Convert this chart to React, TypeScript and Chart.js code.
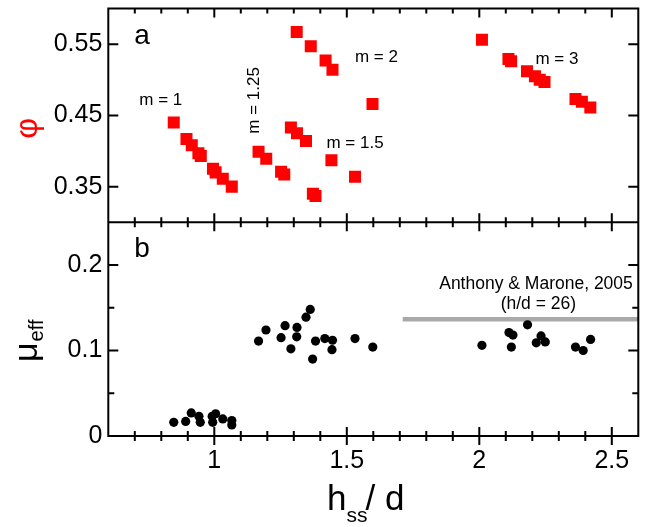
import React, { useEffect, useRef } from 'react';
import { Chart, registerables } from 'chart.js';

Chart.register(...registerables);

const FONT = "'Liberation Sans', Arial, Helvetica, sans-serif";

// axis ranges and ticks
const xRange = [0.6, 2.6];
const phiRange = [0.3, 0.6];
const muRange = [0, 0.25];
const xMajorTicks = [1, 1.5, 2, 2.5];
const xMinorTicks = [0.7, 0.8, 0.9, 1.1, 1.2, 1.3, 1.4, 1.6, 1.7, 1.8, 1.9, 2.1, 2.2, 2.3, 2.4];
const phiTicks = [0.35, 0.45, 0.55];
const muMajorTicks = [0, 0.1, 0.2];
const muMinorTicks = [0.05, 0.15];

// panel a: packing fraction phi
const m1X = [0.847, 0.895, 0.915, 0.940, 0.949, 0.995, 1.005, 1.032, 1.066];
const m1Phi = [0.440, 0.417, 0.408, 0.397, 0.393, 0.375, 0.370, 0.361, 0.350];
const m125X = [1.167, 1.196, 1.252, 1.264];
const m125Phi = [0.399, 0.389, 0.371, 0.367];
const m15X = [1.289, 1.312, 1.346, 1.372, 1.382, 1.442, 1.531];
const m15Phi = [0.433, 0.425, 0.414, 0.340, 0.337, 0.387, 0.364];
const m2X = [1.311, 1.364, 1.420, 1.446, 1.597];
const m2Phi = [0.567, 0.547, 0.527, 0.514, 0.466];
const m3X = [2.010, 2.110, 2.120, 2.180, 2.210, 2.228, 2.246, 2.363, 2.387, 2.419];
const m3Phi = [0.556, 0.529, 0.526, 0.512, 0.505, 0.500, 0.497, 0.473, 0.469, 0.461];

// panel b: effective friction
const muX = [
  0.847, 0.892, 0.913, 0.942, 0.947, 0.992, 0.994, 1.005, 1.032, 1.066, 1.066,
  1.167, 1.195, 1.252, 1.267, 1.289, 1.311, 1.312, 1.346, 1.362, 1.371, 1.382, 1.417, 1.446, 1.444, 1.531, 1.598,
  2.010, 2.112, 2.127, 2.121, 2.182, 2.215, 2.233, 2.249, 2.363, 2.392, 2.420,
];
const muVals = [
  0.016, 0.017, 0.027, 0.023, 0.016, 0.023, 0.016, 0.026, 0.020, 0.018, 0.013,
  0.111, 0.124, 0.115, 0.129, 0.102, 0.116, 0.127, 0.139, 0.148, 0.090, 0.111, 0.114, 0.112, 0.101, 0.114, 0.104,
  0.106, 0.121, 0.118, 0.104, 0.130, 0.109, 0.117, 0.110, 0.104, 0.100, 0.113,
];

// reference value (Anthony & Marone, 2005)
const refX = [1.711, 2.6];
const refMu = [0.1365, 0.1365];

// annotation texts and their anchor positions (data units)
const phiNotes = [
  { text: 'm = 1', x: 0.798, y: 0.471, rot: false },
  { text: 'm = 1.25', x: 1.150, y: 0.471, rot: true },
  { text: 'm = 2', x: 1.612, y: 0.531, rot: false },
  { text: 'm = 1.5', x: 1.531, y: 0.411, rot: false },
  { text: 'm = 3', x: 2.293, y: 0.5285, rot: false },
];
const muNotes = [
  { text: 'Anthony & Marone, 2005', x: 2.214, y: 0.1776 },
  { text: '(h/d = 26)', x: 2.223, y: 0.1545 },
];
const panelLetters = [
  { text: 'a', x: 0.727, y: 0.561, axis: 'yPhi' },
  { text: 'b', x: 0.727, y: 0.218, axis: 'yMu' },
];

const pts = (xs: number[], ys: number[]) => xs.map((x, i) => ({ x, y: ys[i] }));

const framePlugin = {
  id: 'frameTicks',
  afterDraw(chart: any) {
    const { ctx, chartArea: ca, scales } = chart;
    const sx = scales.x;
    const yP = scales.yPhi;
    const yM = scales.yMu;
    const mid = yP.bottom;
    ctx.save();
    ctx.strokeStyle = '#000';
    ctx.lineWidth = 2;
    ctx.strokeRect(ca.left, ca.top, ca.right - ca.left, ca.bottom - ca.top);
    ctx.beginPath();
    ctx.moveTo(ca.left, mid);
    ctx.lineTo(ca.right, mid);
    ctx.stroke();

    ctx.beginPath();
    const vt = (px: number, a: number, b: number) => { ctx.moveTo(px, a); ctx.lineTo(px, b); };
    const ht = (py: number, a: number, b: number) => { ctx.moveTo(a, py); ctx.lineTo(b, py); };
    const xt = (vals: number[], len: number) => {
      vals.forEach((v) => {
        const px = sx.getPixelForValue(v);
        vt(px, ca.top, ca.top + len);
        vt(px, mid - len, mid + len);
        vt(px, ca.bottom - len, ca.bottom + len);
      });
    };
    xt(xMajorTicks, 9);
    xt(xMinorTicks, 5);
    const yt = (scale: any, vals: number[], len: number) => {
      vals.forEach((v) => {
        const py = scale.getPixelForValue(v);
        ht(py, ca.left, ca.left + len);
        ht(py, ca.right - len, ca.right);
      });
    };
    yt(yP, phiTicks, 10);
    yt(yM, muMajorTicks, 10);
    yt(yM, muMinorTicks, 6);
    ctx.stroke();

    // annotations
    ctx.fillStyle = '#000';
    ctx.font = `17px ${FONT}`;
    ctx.textAlign = 'center';
    ctx.textBaseline = 'middle';
    phiNotes.forEach((n) => {
      const px = sx.getPixelForValue(n.x);
      const py = yP.getPixelForValue(n.y);
      if (n.rot) {
        ctx.save();
        ctx.translate(px, py);
        ctx.rotate(-Math.PI / 2);
        ctx.fillText(n.text, 0, 0);
        ctx.restore();
      } else {
        ctx.fillText(n.text, px, py);
      }
    });
    ctx.font = `17.5px ${FONT}`;
    muNotes.forEach((n) => {
      ctx.fillText(n.text, sx.getPixelForValue(n.x), yM.getPixelForValue(n.y));
    });
    ctx.font = `28px ${FONT}`;
    panelLetters.forEach((n) => {
      const sc = scales[n.axis];
      ctx.fillText(n.text, sx.getPixelForValue(n.x), sc.getPixelForValue(n.y));
    });

    // axis titles
    // phi (red, rotated)
    ctx.save();
    ctx.fillStyle = '#ff0000';
    ctx.font = `32px ${FONT}`;
    ctx.translate(28, (yP.top + yP.bottom) / 2 + 13);
    ctx.rotate(-Math.PI / 2);
    ctx.textAlign = 'center';
    ctx.textBaseline = 'middle';
    ctx.fillText('φ', 0, 0);
    ctx.restore();

    // mu_eff (rotated)
    ctx.save();
    ctx.fillStyle = '#000';
    ctx.translate(37, 362);
    ctx.rotate(-Math.PI / 2);
    ctx.textAlign = 'left';
    ctx.textBaseline = 'alphabetic';
    ctx.font = `34px ${FONT}`;
    ctx.fillText('μ', 0, 0);
    const wMu = ctx.measureText('μ').width;
    ctx.font = `20px ${FONT}`;
    ctx.fillText('eff', wMu + 1, 6);
    ctx.restore();

    // h_ss / d
    ctx.save();
    ctx.fillStyle = '#000';
    ctx.textAlign = 'left';
    ctx.textBaseline = 'alphabetic';
    let cx = 327;
    ctx.font = `35px ${FONT}`;
    ctx.fillText('h', cx, 510);
    cx += ctx.measureText('h').width;
    ctx.font = `21px ${FONT}`;
    ctx.fillText('ss', cx, 522);
    cx += ctx.measureText('ss').width - 2;
    ctx.font = `35px ${FONT}`;
    ctx.fillText('/ d', cx, 510);
    ctx.restore();

    ctx.restore();
  },
};

export default function App() {
  const canvasRef = useRef<HTMLCanvasElement | null>(null);

  useEffect(() => {
    const canvas = canvasRef.current;
    if (!canvas) return;
    const redSet = (xs: number[], ys: number[]) => ({
      type: 'scatter' as const,
      data: pts(xs, ys),
      xAxisID: 'x',
      yAxisID: 'yPhi',
      pointStyle: 'rect',
      pointRadius: 8.5,
      pointHoverRadius: 8.5,
      backgroundColor: '#ff0000',
      borderColor: '#ff0000',
      borderWidth: 0,
      showLine: false,
    });
    const tickFont = { family: FONT, size: 25 };
    const resetPad = (s: any) => {
      s.paddingTop = 0;
      s.paddingBottom = 0;
      s.paddingLeft = 0;
      s.paddingRight = 0;
    };
    const chart = new Chart(canvas, {
      type: 'scatter',
      data: {
        datasets: [
          redSet(m1X, m1Phi),
          redSet(m125X, m125Phi),
          redSet(m15X, m15Phi),
          redSet(m2X, m2Phi),
          redSet(m3X, m3Phi),
          {
            type: 'scatter',
            data: pts(muX, muVals),
            xAxisID: 'x',
            yAxisID: 'yMu',
            pointStyle: 'circle',
            pointRadius: 4.6,
            pointHoverRadius: 4.6,
            backgroundColor: '#000',
            borderColor: '#000',
            borderWidth: 0,
          },
          {
            type: 'scatter',
            data: pts(refX, refMu),
            xAxisID: 'x',
            yAxisID: 'yMu',
            showLine: true,
            borderColor: '#a9a9a9',
            borderWidth: 4.5,
            pointRadius: 0,
            pointHoverRadius: 0,
          },
        ] as any,
      },
      options: {
        animation: false,
        responsive: false,
        maintainAspectRatio: false,
        devicePixelRatio: 1,
        events: [],
        layout: { padding: { top: 8, right: 10.7, left: 0, bottom: 0 } },
        plugins: { legend: { display: false }, tooltip: { enabled: false } },
        scales: {
          x: {
            type: 'linear',
            position: 'bottom',
            min: xRange[0],
            max: xRange[1],
            grid: { display: false, drawTicks: false },
            border: { display: false },
            afterBuildTicks: (s: any) => { s.ticks = xMajorTicks.map((v) => ({ value: v })); },
            afterFit: (s: any) => { s.height = 91; resetPad(s); },
            ticks: {
              font: tickFont,
              color: '#000',
              padding: 10,
              maxRotation: 0,
              autoSkip: false,
              callback: (v: any) => String(v),
            },
          },
          yMu: {
            type: 'linear',
            position: 'left',
            stack: 'panels',
            stackWeight: 1,
            weight: 0,
            min: muRange[0],
            max: muRange[1],
            grid: { display: false, drawTicks: false },
            border: { display: false },
            afterBuildTicks: (s: any) => { s.ticks = muMajorTicks.map((v) => ({ value: v })); },
            afterFit: (s: any) => { s.width = 108.3; resetPad(s); },
            ticks: {
              font: tickFont,
              color: '#000',
              padding: 6,
              autoSkip: false,
              callback: (v: any) => String(v),
            },
          },
          yPhi: {
            type: 'linear',
            position: 'left',
            stack: 'panels',
            stackWeight: 1,
            weight: 1,
            min: phiRange[0],
            max: phiRange[1],
            grid: { display: false, drawTicks: false },
            border: { display: false },
            afterBuildTicks: (s: any) => { s.ticks = phiTicks.map((v) => ({ value: v })); },
            afterFit: (s: any) => { s.width = 108.3; resetPad(s); },
            ticks: {
              font: tickFont,
              color: '#000',
              padding: 6,
              autoSkip: false,
              callback: (v: any) => String(v),
            },
          },
        },
      } as any,
      plugins: [framePlugin],
    });
    return () => chart.destroy();
  }, []);

  return (
    <div style={{ position: 'absolute', left: 0, top: 0, width: 649, height: 527, background: '#fff' }}>
      <canvas ref={canvasRef} width={649} height={527} style={{ display: 'block' }} />
    </div>
  );
}
